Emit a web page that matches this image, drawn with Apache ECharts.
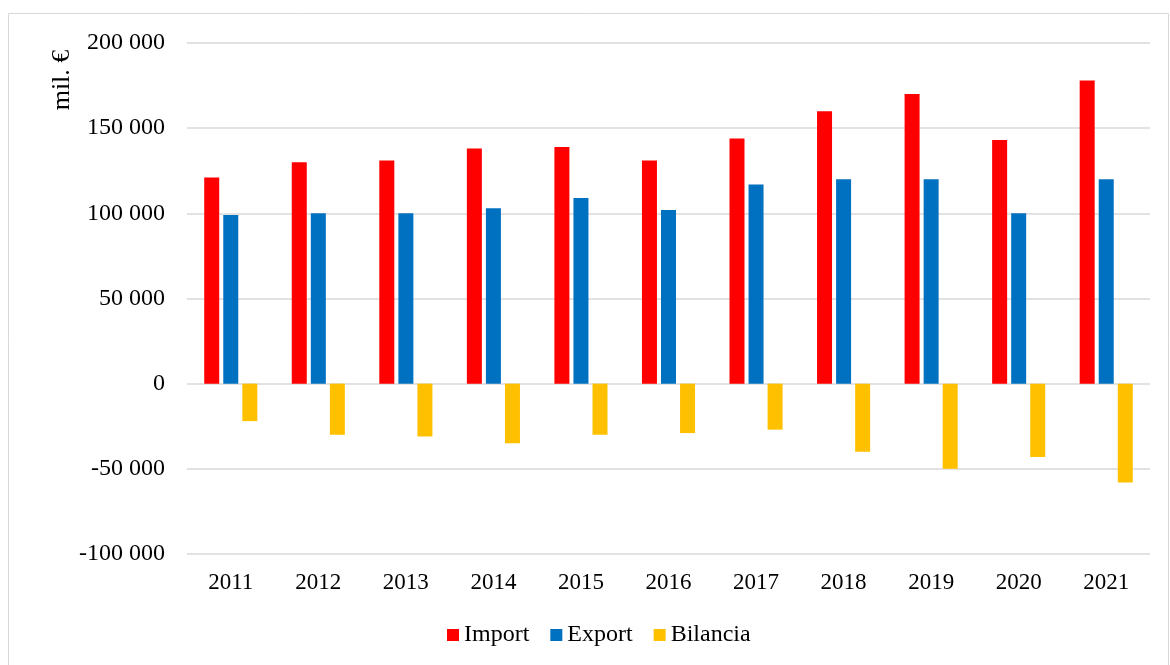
<!DOCTYPE html>
<html>
<head>
<meta charset="utf-8">
<script src="https://cdn.jsdelivr.net/npm/echarts@6/dist/echarts.min.js"></script>
<style>html,body{margin:0;padding:0;background:#fff}#c{width:1170px;height:665px}</style>
</head>
<body>
<div id="c"></div>
<script>
const years = ['2011','2012','2013','2014','2015','2016','2017','2018','2019','2020','2021'];
const importVals = [121000,130000,131000,138000,139000,131000,144000,160000,170000,143000,178000];
const exportVals = [99000,100000,100000,103000,109000,102000,117000,120000,120000,100000,120000];
const balanceVals = [-22000,-30000,-31000,-35000,-30000,-29000,-27000,-40000,-50000,-43000,-58000];
const seriesNames = ['Import','Export','Bilancia'];
const colors = ['#ff0000','#0070c0','#ffc000'];
const unitLabel = 'mil. €';

const font = 'Liberation Serif, Times New Roman, serif';
const chart = echarts.init(document.getElementById('c'), null, {renderer:'canvas'});
function fmt(v){
  const s = Math.abs(v).toString().replace(/\B(?=(\d{3})+(?!\d))/g,' ');
  return (v<0?'-':'') + s;
}
const data = [importVals, exportVals, balanceVals];
chart.setOption({
  animation:false,
  backgroundColor:'#fff',
  graphic:[
    {type:'rect',shape:{x:8.5,y:13.5,width:1160,height:660},style:{fill:'none',stroke:'#d9d9d9',lineWidth:1}},
    {type:'text',x:62,y:80,rotation:Math.PI/2,style:{text:unitLabel,fontFamily:font,fontSize:26,fill:'#000',align:'center',verticalAlign:'middle'}}
  ],
  grid:{left:187,right:20,top:43,bottom:111},
  legend:{
    data:seriesNames, left:442, top:618, itemWidth:12, itemHeight:12, itemGap:21,
    icon:'rect',
    textStyle:{fontFamily:font,fontSize:24,color:'#000'}
  },
  xAxis:{
    type:'category', data:years,
    axisLine:{onZero:false, show:false},
    axisTick:{show:false},
    axisLabel:{fontFamily:font,fontSize:23,color:'#000',margin:17}
  },
  yAxis:{
    type:'value', min:-100000, max:200000, interval:50000,
    axisLine:{show:false}, axisTick:{show:false},
    axisLabel:{fontFamily:font,fontSize:24,color:'#000',margin:22,formatter:fmt},
    splitLine:{lineStyle:{color:'#d9d9d9',width:1.5}}
  },
  series: seriesNames.map((n,i)=>({
    name:n, type:'bar', data:data[i], barWidth:15, barGap:'27%',
    itemStyle:{color:colors[i]}
  }))
});
</script>
</body>
</html>
